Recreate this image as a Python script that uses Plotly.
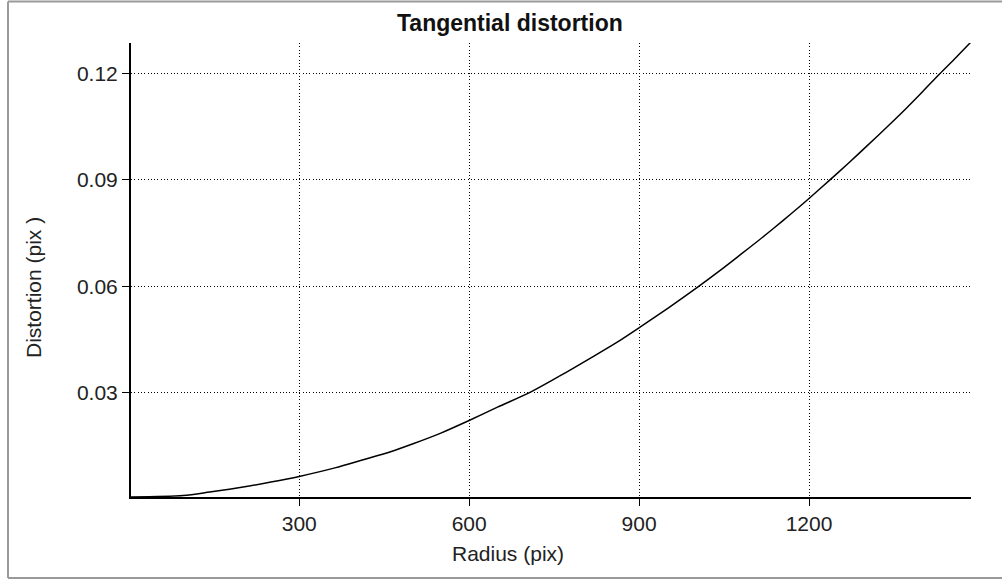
import plotly.graph_objects as go

# ---- data ----
radius = [3, 95, 142, 201, 250, 300, 363, 413, 460, 501, 550, 598, 650, 710,
          760, 818, 860, 901, 950, 1004, 1042, 1080, 1112, 1136, 1170, 1200,
          1236, 1270, 1301, 1340, 1371, 1400, 1430, 1460, 1486]
distortion = [0.0006, 0.0010, 0.0020, 0.0034, 0.0048, 0.0064, 0.0088, 0.0111,
              0.0133, 0.0156, 0.0186, 0.0220, 0.0259, 0.0303, 0.0347, 0.0401,
              0.0441, 0.0484, 0.0537, 0.0598, 0.0643, 0.0690, 0.0730, 0.0761,
              0.0806, 0.0847, 0.0898, 0.0947, 0.0993, 0.1052, 0.1100, 0.1147,
              0.1197, 0.1245, 0.1288]
x_ticks = [300, 600, 900, 1200]
y_ticks = [0.03, 0.06, 0.09, 0.12]
y_tick_text = ["0.03", "0.06", "0.09", "0.12"]

title_text = "Tangential distortion"
x_title = "Radius (pix)"
y_title = "Distortion (pix )"

W, H = 1002, 581
L, R, T, B = 131, 31, 43, 84
pw, ph = W - L - R, H - T - B

def px(xp):
    return (xp - L) / pw

def py(yp):
    return (H - B - yp) / ph

FONT = "Tahoma, 'Liberation Sans', Arial, sans-serif"

fig = go.Figure()
fig.add_trace(go.Scatter(x=radius, y=distortion, mode="lines",
                         line=dict(color="black", width=1.5, shape="spline",
                                   smoothing=0.8),
                         showlegend=False, hoverinfo="x+y"))

axis_common = dict(showline=True, linecolor="black", linewidth=2,
                   ticks="outside", ticklen=7, tickcolor="black", tickwidth=1,
                   showgrid=True, gridcolor="black", gridwidth=1,
                   griddash="1px,2.3px", zeroline=False, mirror=False,
                   tickfont=dict(family=FONT, size=21, color="#222222"))

fig.update_xaxes(range=[3, 1486], tickvals=x_ticks, **axis_common)
fig.update_yaxes(range=[0.0006, 0.1285], tickvals=y_ticks,
                 ticktext=y_tick_text, **axis_common)

frame_line = dict(color="#9a9a9a", width=2)
frame = [
    dict(type="line", xref="paper", yref="paper", x0=px(8), x1=px(8),
         y0=py(578), y1=py(1.5), line=frame_line, layer="below"),
    dict(type="line", xref="paper", yref="paper", x0=px(8), x1=px(1010),
         y0=py(1.5), y1=py(1.5), line=frame_line, layer="below"),
    dict(type="line", xref="paper", yref="paper", x0=px(8), x1=px(1010),
         y0=py(578), y1=py(578), line=frame_line, layer="below"),
]

fig.update_layout(
    width=W, height=H,
    margin=dict(l=L, r=R, t=T, b=B),
    paper_bgcolor="white", plot_bgcolor="white",
    font=dict(family=FONT, color="#222222"),
    shapes=frame,
    annotations=[
        dict(text="<b>" + title_text + "</b>", xref="paper", yref="paper",
             x=px(510), y=py(23), showarrow=False, xanchor="center",
             yanchor="middle", font=dict(family=FONT, size=23, color="#111111")),
        dict(text=x_title, xref="paper", yref="paper",
             x=px(508), y=py(553), showarrow=False, xanchor="center",
             yanchor="middle", font=dict(family=FONT, size=21, color="#222222")),
        dict(text=y_title, xref="paper", yref="paper",
             x=px(33), y=py(288), showarrow=False, xanchor="center",
             yanchor="middle", textangle=-90,
             font=dict(family=FONT, size=21, color="#222222")),
    ],
)

fig.write_html("out.html")
